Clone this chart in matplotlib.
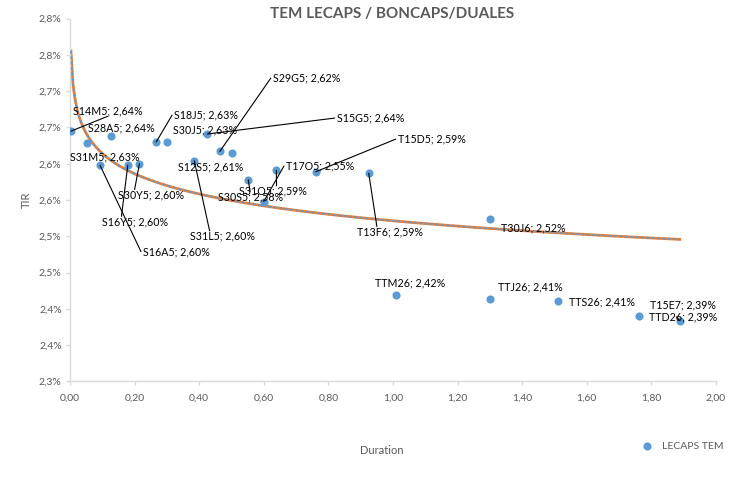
import numpy as np
import matplotlib
matplotlib.use("Agg")
import matplotlib.pyplot as plt

# Bond tickers, duration (years) and TIR (%)
tickers = [
    "S14M5", "S31M5", "S16A5", "S28A5", "S16Y5", "S30Y5", "S18J5", "S30J5",
    "S31L5", "S15G5", "S29G5", "S12S5", "S30S5", "T17O5", "S31O5", "T15D5",
    "T13F6", "T30J6", "TTM26", "TTJ26", "TTS26", "T15E7", "TTD26",
]
duration = [
    0.003, 0.052, 0.093, 0.127, 0.179, 0.215, 0.267, 0.300,
    0.385, 0.425, 0.464, 0.502, 0.552, 0.600, 0.639, 0.761,
    0.925, 1.301, 1.011, 1.301, 1.512, 1.763, 1.888,
]
tir = [
    2.645, 2.629, 2.598, 2.638, 2.598, 2.600, 2.630, 2.630,
    2.604, 2.641, 2.617, 2.615, 2.578, 2.548, 2.591, 2.589,
    2.587, 2.524, 2.419, 2.414, 2.411, 2.390, 2.384,
]
# values printed in the data labels
label_values = [
    "2,64%", "2,63%", "2,60%", "2,64%", "2,60%", "2,60%", "2,63%", "2,63%",
    "2,60%", "2,64%", "2,62%", "2,61%", "2,58%", "2,55%", "2,59%", "2,59%",
    "2,59%", "2,52%", "2,42%", "2,41%", "2,41%", "2,39%", "2,39%",
]

# label placement (data coords, left / centre)
label_pos = [
    (0.009, 2.673), (0.000, 2.609), (0.226, 2.479), (0.056, 2.650),
    (0.098, 2.520), (0.149, 2.557), (0.322, 2.667), (0.319, 2.647),
    (0.372, 2.500), (0.826, 2.663), (0.628, 2.718), (0.334, 2.596),
    (0.457, 2.554), (0.669, 2.597), (0.524, 2.562), (1.015, 2.634),
    (0.889, 2.506), (1.334, 2.511), (0.944, 2.436), (1.326, 2.431),
    (1.545, 2.409), (1.796, 2.406), (1.793, 2.389),
]
# where the leader line meets the label box (relative), None = no leader
leader_anchor = [
    (0.5, 0.0), None, (-0.03, 0.5), None, (0.3, 1.0), (0.25, 1.0),
    (-0.03, 0.5), None, (0.3, 1.0), (-0.03, 0.5), (-0.03, 0.5), None,
    (0.5, 1.0), (-0.03, 0.5), (0.55, 1.0), (-0.03, 0.5),
    (0.3, 1.0), None, None, None, None, None, (0.4, 0.5),
]

GREY = "#595959"
BLUE = "#5B9BD5"
ORANGE = "#ED7D31"
FONT = "Lato"


def pct_label(v):
    # Excel style: one decimal, half up, comma decimal separator
    return f"{np.floor(v * 10 + 0.5 + 1e-9) / 10:.1f}".replace(".", ",") + "%"


def plot_chart():
    fig = plt.figure(figsize=(7.35, 4.78), dpi=100)
    ax = fig.add_axes([0.0952, 0.2019, 0.974 - 0.0952, 0.961 - 0.2019])

    x = np.array(duration)
    y = np.array(tir)

    # logarithmic trendline over the data range
    b, a = np.polyfit(np.log(x), y, 1)
    xs = np.linspace(x.min(), x.max(), 300)
    ys = a + b * np.log(xs)
    ax.plot(xs, ys, color=ORANGE, linewidth=2.0, zorder=2)
    ax.plot(xs, ys, color=BLUE, linewidth=1.3, dashes=(1.5, 1.5), zorder=3)

    ax.scatter(x, y, s=34, color=BLUE, zorder=4, label="LECAPS TEM",
               linewidths=0)

    for i, name in enumerate(tickers):
        text = f"{name}; {label_values[i]}"
        arrow = None
        if leader_anchor[i] is not None:
            arrow = dict(arrowstyle="-", color="black", linewidth=0.8,
                         shrinkA=0, shrinkB=0, relpos=leader_anchor[i],
                         patchA=None)
        ax.annotate(text, xy=(x[i], y[i]), xytext=label_pos[i],
                    textcoords="data", ha="left", va="center",
                    fontsize=7.7, family=FONT, color="black",
                    arrowprops=arrow, zorder=5)

    ax.set_xlim(0, 2.0)
    ax.set_ylim(2.30, 2.80)
    xt = np.linspace(0, 2.0, 11)
    ax.set_xticks(xt)
    ax.set_xticklabels([f"{v:.2f}".replace(".", ",") for v in xt])
    yt = np.linspace(2.30, 2.80, 11)
    ax.set_yticks(yt)
    ax.set_yticklabels([pct_label(v) for v in yt])

    for side in ("top", "right"):
        ax.spines[side].set_visible(False)
    for side in ("left", "bottom"):
        ax.spines[side].set_color("#D9D9D9")
        ax.spines[side].set_linewidth(1.0)
    ax.tick_params(colors="#D9D9D9", length=3, width=1.0, labelcolor=GREY,
                   labelsize=7.5)
    ax.tick_params(axis="x", pad=6)
    ax.tick_params(axis="y", pad=3)
    for lab in ax.get_xticklabels() + ax.get_yticklabels():
        lab.set_family(FONT)

    fig.text(392 / 735, 1 - 14 / 478, "TEM LECAPS / BONCAPS/DUALES",
             ha="center", va="center", fontsize=11, fontweight="bold",
             color=GREY, family=FONT)
    fig.text(382 / 735, 1 - 450 / 478, "Duration", ha="center", va="center",
             fontsize=8, color=GREY, family=FONT)
    fig.text(26 / 735, 1 - 200 / 478, "TIR", ha="center", va="center",
             rotation=90, fontsize=8, color=GREY, family=FONT)

    ax.legend(loc="center left", bbox_to_anchor=(636 / 735, 1 - 446 / 478),
              bbox_transform=fig.transFigure, frameon=False,
              prop={"family": FONT, "size": 7.5}, handletextpad=0.8,
              handlelength=1.2, labelcolor=GREY, borderpad=0)

    fig.savefig("out.png", dpi=100)


def main():
    plot_chart()


if __name__ == "__main__":
    main()
